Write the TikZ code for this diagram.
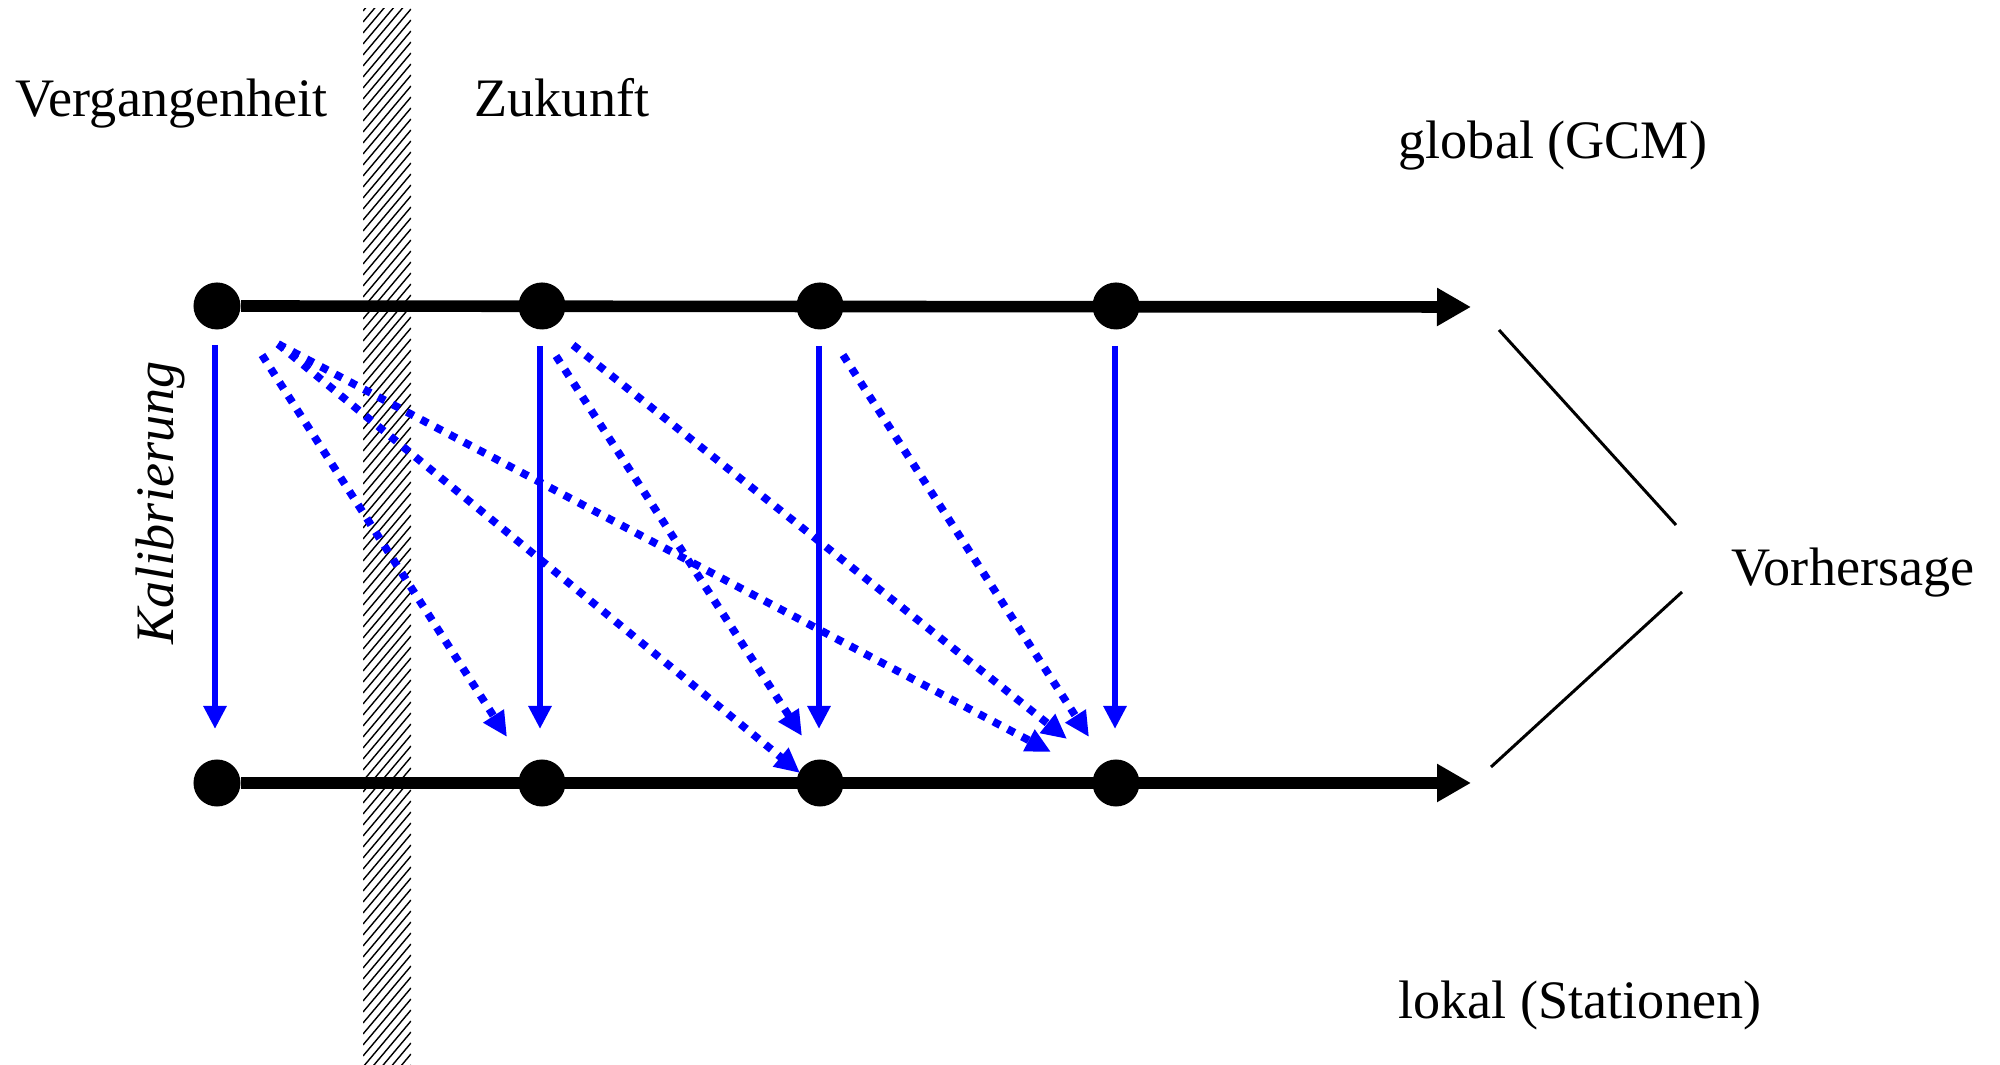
\documentclass[tikz,border=0pt]{standalone}
\usepackage{fontspec}
\setmainfont{Liberation Serif}
\usetikzlibrary{arrows.meta}
\begin{document}
\begin{tikzpicture}[x=0.01cm,y=-0.01cm,
  dot/.style={circle,fill=black,inner sep=0pt,minimum size=0.47cm},
  lbl/.style={font=\fontsize{15.4}{18}\selectfont,inner sep=0pt,anchor=base west},
  timeline/.style={line width=3.3pt,-{Triangle[length=0.34cm,width=0.36cm]}},
  calib/.style={blue,line width=1.7pt,-{Triangle[length=0.23cm,width=0.22cm]}},
  pred/.style={blue,line width=2.2pt,dash pattern=on 2.2pt off 2.4pt,-{Triangle[length=0.25cm,width=0.23cm]}},
  conn/.style={line width=0.85pt}]
\useasboundingbox (0,0) rectangle (2000,1065);
% hatched bar (present/past boundary)
\begin{scope}
  \clip (363,9) rectangle (411,1065);
  \foreach \k in {0,...,106} { \draw[line width=0.4pt] (363,\k*11) -- ++(48,-57); }
\end{scope}
% dots
\node[dot] (t1) at (217,306) {};
\node[dot] (t2) at (542,306) {};
\node[dot] (t3) at (820,306) {};
\node[dot] (t4) at (1116,306) {};
\node[dot] (b1) at (217,783) {};
\node[dot] (b2) at (542,783) {};
\node[dot] (b3) at (820,783) {};
\node[dot] (b4) at (1116,783) {};
\coordinate (te) at (1471,307);
\coordinate (be) at (1471,783);
\draw[timeline] (t1) -- (te);
\draw[timeline] (b1) -- (be);
% calibration arrows
\coordinate (c1s) at (215,345); \coordinate (c1e) at (215,729);
\coordinate (c2s) at (540,346); \coordinate (c2e) at (540,729);
\coordinate (c3s) at (819,346); \coordinate (c3e) at (819,729);
\coordinate (c4s) at (1115,346); \coordinate (c4e) at (1115,729);
\draw[calib] (c1s) -- (c1e);
\draw[calib] (c2s) -- (c2e);
\draw[calib] (c3s) -- (c3e);
\draw[calib] (c4s) -- (c4e);
% dotted prediction arrows
\coordinate (as) at (262,355); \coordinate (ae) at (507,737);
\coordinate (bs) at (278,344); \coordinate (bend) at (800,773);
\coordinate (cs) at (278,344); \coordinate (ce) at (1051,752);
\coordinate (ds) at (556,356); \coordinate (de) at (802,736);
\coordinate (es) at (573,345); \coordinate (ee) at (1067,739);
\coordinate (fs) at (843,355); \coordinate (fe) at (1089,737);
\draw[pred] (as) -- (ae);
\draw[pred] (bs) -- (bend);
\draw[pred] (cs) -- (ce);
\draw[pred] (ds) -- (de);
\draw[pred] (es) -- (ee);
\draw[pred] (fs) -- (fe);
% labels
\node[lbl] (verg) at (15,117) {Vergangenheit};
\node[lbl] (zuk) at (474,117) {Zukunft};
\node[lbl] (glob) at (1398,159) {global (GCM)};
\node[lbl] (lok) at (1398,1019) {lokal (Stationen)};
\node[lbl] (vor) at (1731,586) {Vorhersage};
\node[lbl,anchor=base,rotate=90] (kal) at (173,503) {\itshape Kalibrierung};
% Vorhersage bracket
\coordinate (v1s) at (1499,330); \coordinate (v1e) at (1676,525);
\coordinate (v2s) at (1682,592); \coordinate (v2e) at (1491,767);
\draw[conn] (v1s) -- (v1e);
\draw[conn] (v2s) -- (v2e);
\end{tikzpicture}
\end{document}
